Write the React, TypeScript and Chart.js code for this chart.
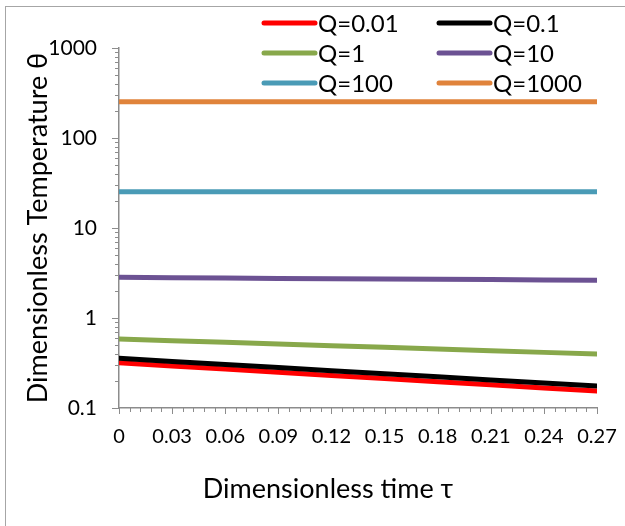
import React, { useEffect, useRef } from "react";
import { Chart, registerables } from "chart.js";

Chart.register(...registerables);

// ---- data ----
const tau = [0, 0.03, 0.06, 0.09, 0.12, 0.15, 0.18, 0.21, 0.24, 0.27];
const q0_01 = [0.318, 0.293, 0.271, 0.25, 0.23, 0.213, 0.196, 0.181, 0.167, 0.154];
const q0_1 = [0.356, 0.329, 0.304, 0.281, 0.26, 0.24, 0.222, 0.205, 0.19, 0.175];
const q1 = [0.585, 0.56, 0.537, 0.514, 0.493, 0.472, 0.452, 0.433, 0.415, 0.398];
const q10 = [2.83, 2.8, 2.78, 2.75, 2.73, 2.71, 2.69, 2.67, 2.65, 2.63];
const q100 = [25.3, 25.3, 25.3, 25.3, 25.3, 25.3, 25.3, 25.3, 25.3, 25.3];
const q1000 = [253, 253, 253, 253, 253, 253, 253, 253, 253, 253];

const seriesLabels = ["Q=0.01", "Q=0.1", "Q=1", "Q=10", "Q=100", "Q=1000"];
const seriesValues = [q0_01, q0_1, q1, q10, q100, q1000];
const seriesColors = ["#FF0000", "#000000", "#88A84B", "#6C5293", "#4A9BB6", "#E0833B"];

const xMin = 0;
const xMax = 0.27;
const xMajorStep = 0.03;
const xMinorPerMajor = 5;
const yMin = 0.1;
const yMax = 1000;

const xTitle = "Dimensionless time τ";
const yTitle = "Dimensionless Temperature θ";

const FONT = "Lato, 'Open Sans', sans-serif";
const AXIS_COLOR = "#8c8c8c";

const frameBorderPlugin = {
  id: "frameBorder",
  beforeDraw(chart: any) {
    const ctx = chart.ctx;
    ctx.save();
    ctx.fillStyle = "#ffffff";
    ctx.fillRect(0, 0, chart.width, chart.height);
    ctx.strokeStyle = "#a6a6a6";
    ctx.lineWidth = 1;
    ctx.strokeRect(5.5, 6.5, chart.width + 20, chart.height + 20);
    ctx.restore();
  },
};

const ticksPlugin = {
  id: "excelTicks",
  afterDraw(chart: any) {
    const ctx = chart.ctx;
    const xs = chart.scales.x;
    const ys = chart.scales.y;
    const { left, bottom } = chart.chartArea;
    ctx.save();
    ctx.strokeStyle = AXIS_COLOR;
    ctx.lineWidth = 1;
    const minorStep = xMajorStep / xMinorPerMajor;
    const n = Math.round((xMax - xMin) / minorStep);
    for (let i = 0; i <= n; i++) {
      const v = xMin + i * minorStep;
      const px = Math.round(xs.getPixelForValue(v)) + 0.5;
      const major = i % xMinorPerMajor === 0;
      ctx.beginPath();
      ctx.moveTo(px, bottom);
      ctx.lineTo(px, bottom + (major ? 6 : 4));
      ctx.stroke();
    }
    const eMin = Math.round(Math.log10(yMin));
    const eMax = Math.round(Math.log10(yMax));
    for (let e = eMin; e <= eMax; e++) {
      for (let k = 1; k <= 9; k++) {
        const v = k * Math.pow(10, e);
        if (v > yMax * 1.0001) break;
        const py = Math.round(ys.getPixelForValue(v)) + 0.5;
        const major = k === 1;
        ctx.beginPath();
        ctx.moveTo(left, py);
        ctx.lineTo(left - (major ? 7 : 4), py);
        ctx.stroke();
      }
    }
    ctx.restore();
  },
};

const xTitlePlugin = {
  id: "xTitleDraw",
  afterDraw(chart: any) {
    const ctx = chart.ctx;
    ctx.save();
    ctx.fillStyle = "#000000";
    ctx.font = `27px ${FONT}`;
    ctx.textAlign = "center";
    ctx.textBaseline = "middle";
    ctx.fillText(xTitle, 328, 489);
    ctx.restore();
  },
};

const legendPlugin = {
  id: "gridLegend",
  afterDraw(chart: any) {
    const ctx = chart.ctx;
    const colX = [262, 437];
    const rowY = [23, 53, 83];
    const lineLen = 55;
    ctx.save();
    ctx.font = `24px ${FONT}`;
    ctx.textAlign = "left";
    ctx.textBaseline = "middle";
    chart.data.datasets.forEach((ds: any, i: number) => {
      const x = colX[i % 2];
      const y = rowY[Math.floor(i / 2)];
      ctx.strokeStyle = ds.borderColor;
      ctx.lineWidth = 5;
      ctx.lineCap = "round";
      ctx.beginPath();
      ctx.moveTo(x + 2, y);
      ctx.lineTo(x + lineLen - 2, y);
      ctx.stroke();
      ctx.fillStyle = "#000000";
      ctx.fillText(ds.label, x + lineLen + 1, y + 1);
    });
    ctx.restore();
  },
};

function fmtY(v: number) {
  const l = Math.log10(v);
  if (Math.abs(l - Math.round(l)) > 1e-6) return "";
  return String(parseFloat(v.toPrecision(6)));
}

export default function App() {
  const canvasRef = useRef<HTMLCanvasElement | null>(null);

  useEffect(() => {
    if (!canvasRef.current) return;
    const datasets = seriesLabels.map((label, i) => ({
      label,
      data: tau.map((t, j) => ({ x: t, y: seriesValues[i][j] })),
      borderColor: seriesColors[i],
      backgroundColor: seriesColors[i],
      borderWidth: 5,
      borderCapStyle: "round" as const,
      pointRadius: 0,
      fill: false,
      tension: 0,
      order: seriesLabels.length - i,
    }));
    const chart = new Chart(canvasRef.current, {
      type: "line",
      data: { datasets },
      options: {
        animation: false,
        responsive: false,
        maintainAspectRatio: false,
        layout: { padding: { left: 0, top: 48, right: 28, bottom: 0 } },
        plugins: {
          legend: { display: false },
          tooltip: { enabled: false },
          title: { display: false },
        },
        scales: {
          x: {
            type: "linear",
            min: xMin,
            max: xMax,
            grid: { display: false, drawTicks: false },
            border: { display: true, color: AXIS_COLOR, width: 1.5 },
            ticks: {
              stepSize: xMajorStep,
              autoSkip: false,
              maxRotation: 0,
              padding: 17,
              color: "#000000",
              font: { family: FONT, size: 20 },
              callback: (v: any) => (Math.abs(v) < 1e-9 ? "0" : Number(v).toFixed(2)),
            },
            afterFit: (scale: any) => {
              scale.height = 118;
              scale.paddingLeft = 0;
              scale.paddingRight = 0;
            },
          },
          y: {
            type: "logarithmic",
            min: yMin,
            max: yMax,
            grid: { display: false, drawTicks: false },
            border: { display: true, color: AXIS_COLOR, width: 1.5 },
            ticks: {
              autoSkip: false,
              padding: 22,
              color: "#000000",
              font: { family: FONT, size: 21 },
              callback: (v: any) => fmtY(Number(v)),
            },
            title: {
              display: true,
              text: yTitle,
              color: "#000000",
              font: { family: FONT, size: 27 },
              padding: { top: 22, bottom: 0 },
            },
            afterFit: (scale: any) => {
              scale.width = 119;
              scale.paddingTop = 0;
              scale.paddingBottom = 0;
            },
          },
        },
      },
      plugins: [frameBorderPlugin, ticksPlugin, xTitlePlugin, legendPlugin],
    });
    return () => chart.destroy();
  }, []);

  return (
    <div style={{ position: "absolute", left: 0, top: 0, width: 625, height: 526, background: "#fff" }}>
      <canvas ref={canvasRef} width={625} height={526} style={{ display: "block" }} />
    </div>
  );
}
